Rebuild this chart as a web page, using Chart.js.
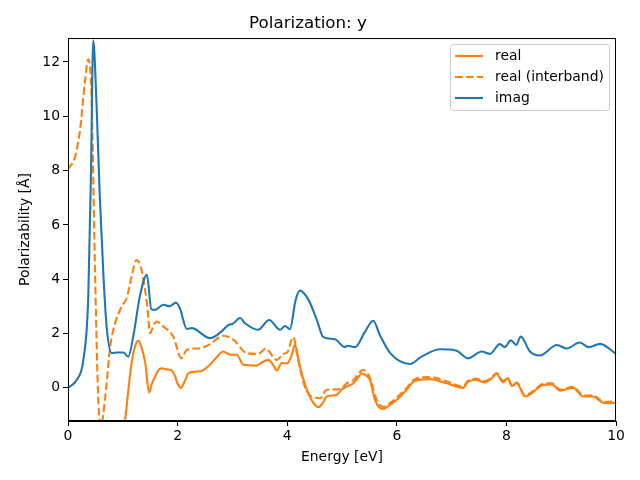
<!DOCTYPE html>
<html>
<head>
<meta charset="utf-8">
<script src="https://cdn.jsdelivr.net/npm/chart.js@4"></script>
<style>
  html, body { margin: 0; padding: 0; background: #fff; }
  #wrap { width: 640px; height: 480px; }
</style>
</head>
<body>
<div id="wrap"><canvas id="polar"></canvas></div>
<script>
// values
const energyReal = [0.2, 0.4, 0.6, 0.8, 0.95, 1.04, 1.1, 1.16, 1.22, 1.28, 1.34, 1.41, 1.48, 1.53, 1.59, 1.65, 1.71, 1.8, 1.89, 1.95,
  2.0, 2.06, 2.13, 2.2, 2.35, 2.45, 2.59, 2.7, 2.83, 2.96, 3.08, 3.2, 3.44, 3.55, 3.66, 3.74, 3.81, 3.9, 4.0, 4.08,
  4.14, 4.23, 4.36, 4.48, 4.57, 4.65, 4.72, 4.9, 5.0, 5.09, 5.21, 5.3, 5.36, 5.44, 5.51, 5.6, 5.75, 5.88, 6.0, 6.18,
  6.33, 6.61, 6.91, 7.21, 7.3, 7.45, 7.61, 7.73, 7.82, 7.94, 8.02, 8.1, 8.19, 8.34, 8.46, 8.67, 8.83, 8.98, 9.22, 9.4,
  9.58, 9.78, 10.0];
const realPart = [-40, -12, -6, -3.3, -1.9, -1.2, -0.1, 0.91, 1.5, 1.74, 1.5, 0.91, -0.17, 0.15, 0.42, 0.65, 0.72, 0.68, 0.64, 0.45,
  0.15, 0.0, 0.25, 0.54, 0.6, 0.63, 0.85, 1.1, 1.34, 1.22, 1.22, 0.85, 0.82, 0.95, 1.03, 0.85, 0.64, 0.91, 0.9, 1.2,
  1.58, 0.79, -0.07, -0.56, -0.71, -0.55, -0.32, -0.26, -0.05, 0.05, 0.17, 0.4, 0.54, 0.45, 0.29, -0.44, -0.78, -0.62, -0.44, -0.07,
  0.26, 0.32, 0.17, 0.0, 0.23, 0.29, 0.2, 0.35, 0.52, 0.2, 0.35, 0.07, 0.17, -0.32, -0.2, 0.11, 0.13, -0.1, 0.0, -0.32,
  -0.32, -0.56, -0.55];

const energyInter = [0.0, 0.13, 0.22, 0.31, 0.37, 0.43, 0.49, 0.55, 0.6, 0.68, 0.77, 0.86, 0.98, 1.07, 1.16, 1.25, 1.34, 1.44, 1.5, 1.56,
  1.62, 1.74, 1.92, 2.07, 2.17, 2.41, 2.59, 2.83, 3.02, 3.26, 3.47, 3.61, 3.81, 3.93, 4.0, 4.11, 4.2, 4.32, 4.45, 4.6,
  4.72, 4.96, 5.09, 5.21, 5.38, 5.51, 5.63, 5.75, 5.88, 6.0, 6.18, 6.33, 6.61, 6.91, 7.21, 7.3, 7.45, 7.61, 7.73, 7.82,
  7.94, 8.02, 8.1, 8.19, 8.34, 8.46, 8.67, 8.83, 8.98, 9.22, 9.4, 9.58, 9.78, 10.0];
const realInterband = [8.05, 8.52, 9.5, 11.3, 12.1, 10.7, 4.6, -0.3, -1.4, -0.32, 1.52, 2.38, 3.0, 3.3, 4.1, 4.71, 4.35, 3.12, 2.01, 2.3,
  2.44, 2.26, 1.89, 1.09, 1.4, 1.46, 1.61, 1.92, 1.77, 1.28, 1.25, 1.44, 1.03, 1.25, 1.3, 1.87, 1.03, 0.05, -0.32, -0.38,
  -0.07, -0.05, 0.17, 0.29, 0.66, 0.36, -0.44, -0.7, -0.55, -0.36, 0.0, 0.32, 0.4, 0.24, 0.05, 0.27, 0.33, 0.25, 0.38, 0.55,
  0.25, 0.38, 0.1, 0.2, -0.28, -0.16, 0.15, 0.17, -0.06, 0.04, -0.28, -0.28, -0.52, -0.5];

const energyImag = [0.0, 0.16, 0.28, 0.37, 0.42, 0.46, 0.52, 0.58, 0.65, 0.71, 0.8, 0.9, 1.01, 1.1, 1.2, 1.31, 1.44, 1.52, 1.59, 1.74,
  1.85, 1.97, 2.04, 2.17, 2.26, 2.59, 2.8, 2.93, 3.0, 3.14, 3.23, 3.47, 3.67, 3.87, 3.96, 4.05, 4.15, 4.23, 4.39, 4.54,
  4.66, 4.87, 5.05, 5.1, 5.24, 5.42, 5.57, 5.69, 5.88, 6.24, 6.45, 6.79, 7.09, 7.3, 7.55, 7.7, 7.88, 7.97, 8.08, 8.18,
  8.26, 8.43, 8.61, 8.92, 9.1, 9.34, 9.5, 9.71, 10.0];
const imagPart = [0.0, 0.3, 1.03, 3.36, 8, 12.8, 10.5, 7.05, 4, 2.14, 1.28, 1.3, 1.3, 1.15, 2.0, 3.36, 4.16, 2.9, 2.87, 3.06,
  3.0, 3.14, 2.94, 2.17, 2.2, 1.83, 2.07, 2.32, 2.35, 2.57, 2.38, 2.14, 2.5, 2.14, 2.28, 2.16, 3.2, 3.58, 3.24, 2.5,
  1.87, 1.79, 1.5, 1.55, 1.5, 2.07, 2.47, 1.95, 1.28, 0.88, 1.15, 1.42, 1.37, 1.09, 1.34, 1.25, 1.61, 1.5, 1.75, 1.58,
  1.89, 1.34, 1.19, 1.58, 1.45, 1.67, 1.5, 1.62, 1.25];

const xTicks = [0, 2, 4, 6, 8, 10];
const yTicks = [0, 2, 4, 6, 8, 10, 12];

const orange = '#ff7f0e';
const blue = '#1f77b4';
const font = 'DejaVu Sans';

function pts(xs, ys) {
  return xs.map((x, i) => ({ x: x, y: ys[i] }));
}

// full frame + matplotlib style legend box
const framePlugin = {
  id: 'frame',
  afterDraw(chart) {
    const ctx = chart.ctx;
    const a = chart.chartArea;
    ctx.save();
    ctx.strokeStyle = '#000';
    ctx.lineWidth = 1;
    ctx.strokeRect(a.left + 0.5, a.top + 0.5, a.right - a.left - 1, a.bottom - a.top - 1);

    const bx = 450.5, by = 44.5, bw = 159, bh = 66;
    ctx.fillStyle = 'rgba(255,255,255,0.8)';
    ctx.strokeStyle = '#cccccc';
    ctx.beginPath();
    ctx.roundRect(bx, by, bw, bh, 3);
    ctx.fill();
    ctx.stroke();

    const items = chart.data.datasets;
    ctx.font = '13.9px ' + font;
    ctx.textBaseline = 'middle';
    items.forEach((ds, i) => {
      const y = 56 + i * 21;
      ctx.strokeStyle = ds.borderColor;
      ctx.lineWidth = 2.1;
      ctx.setLineDash(ds.borderDash || []);
      ctx.beginPath();
      ctx.moveTo(455, y);
      ctx.lineTo(483, y);
      ctx.stroke();
      ctx.setLineDash([]);
      ctx.fillStyle = '#000';
      ctx.fillText(ds.label, 495, y);
    });
    ctx.restore();
  }
};

new Chart(document.getElementById('polar'), {
  type: 'line',
  data: {
    datasets: [{
      label: 'real',
      data: pts(energyReal, realPart),
      borderColor: orange,
      borderWidth: 2.1,
      order: 2
    }, {
      label: 'real (interband)',
      data: pts(energyInter, realInterband),
      borderColor: orange,
      borderWidth: 2.1,
      borderDash: [7.7, 3.3],
      order: 1
    }, {
      label: 'imag',
      data: pts(energyImag, imagPart),
      borderColor: blue,
      borderWidth: 2.1,
      order: 0
    }]
  },
  options: {
    responsive: true,
    maintainAspectRatio: false,
    animation: false,
    elements: {
      point: { radius: 0 },
      line: { cubicInterpolationMode: 'monotone', fill: false }
    },
    layout: { padding: { left: 0, right: 24, top: 0, bottom: 0 } },
    scales: {
      x: {
        type: 'linear',
        min: 0,
        max: 10,
        afterBuildTicks: s => { s.ticks = xTicks.map(v => ({ value: v })); },
        afterFit: s => { s.height = 59; },
        ticks: { color: '#000', font: { family: font, size: 13.9 }, padding: 2, maxRotation: 0 },
        grid: { drawOnChartArea: false, drawTicks: true, tickLength: 5, color: '#000' },
        border: { color: '#000' },
        title: { display: true, text: 'Energy [eV]', color: '#000', font: { family: font, size: 13.9 }, padding: { top: 2, bottom: 14 } }
      },
      y: {
        type: 'linear',
        min: -1.22,
        max: 12.88,
        afterBuildTicks: s => { s.ticks = yTicks.map(v => ({ value: v })); },
        afterFit: s => { s.width = 68; },
        ticks: { color: '#000', font: { family: font, size: 13.9 }, padding: 3 },
        grid: { drawOnChartArea: false, drawTicks: true, tickLength: 5, color: '#000' },
        border: { color: '#000' },
        title: { display: true, text: 'Polarizability [Å]', color: '#000', font: { family: font, size: 13.9 }, padding: { top: 17, bottom: 2 } }
      }
    },
    plugins: {
      legend: { display: false },
      tooltip: { enabled: false },
      title: {
        display: true,
        text: 'Polarization: y',
        color: '#000',
        font: { family: font, size: 16.7, weight: 'normal' },
        padding: { top: 14, bottom: 4 }
      }
    }
  },
  plugins: [framePlugin]
});
</script>
</body>
</html>
